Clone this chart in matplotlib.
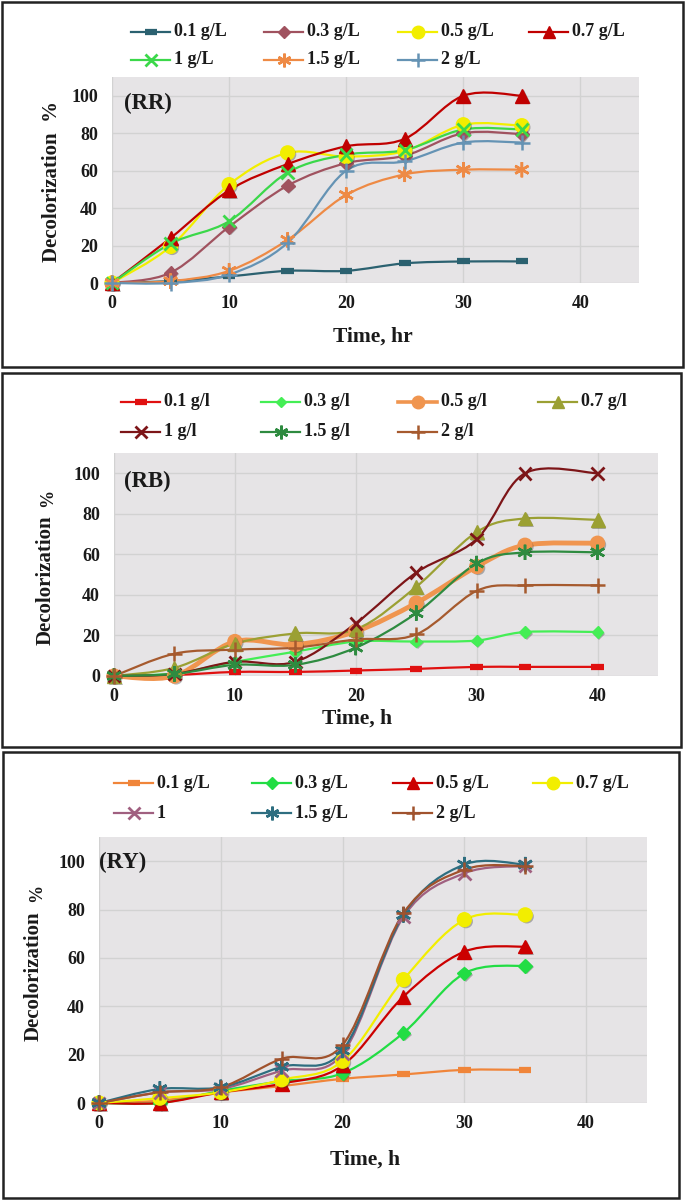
import matplotlib
matplotlib.use('Agg')
import numpy as np
import matplotlib.pyplot as plt
from matplotlib.path import Path
from matplotlib.patches import PathPatch, Rectangle
from matplotlib.lines import Line2D
import matplotlib.patheffects as pe

plt.rcParams['font.family'] = ['Liberation Serif', 'DejaVu Serif']
plt.rcParams['font.weight'] = 'bold'

## data ##
# panel RR
rr_time = [0, 5, 10, 15, 20, 25, 30, 35]
rr_labels = ['0.1 g/L', '0.3 g/L', '0.5 g/L', '0.7 g/L', '1 g/L', '1.5 g/L', '2 g/L']
rr_01 = [0, 1, 3.5, 6.5, 6.5, 10.5, 11.5, 11.5]
rr_03 = [0, 5.5, 30, 52, 64, 68, 80, 79.5]
rr_05 = [0, 19.5, 52.5, 69.5, 67.5, 70.5, 84.5, 84]
rr_07 = [0, 24, 49.5, 63.5, 73, 77, 100, 100]
rr_1 = [0, 21, 33, 59, 68.5, 71, 82, 82]
rr_15 = [0, 1, 6.5, 23, 47, 58, 60.5, 60.5]
rr_2 = [0, 0, 4.5, 21.5, 60, 65, 75, 75]

# panel RB
rb_time = [0, 5, 10, 15, 20, 25, 30, 34, 40]
rb_labels = ['0.1 g/l', '0.3 g/l', '0.5 g/l', '0.7 g/l', '1 g/l', '1.5 g/l', '2 g/l']
rb_01 = [0, 0.5, 2, 2, 2.7, 3.5, 4.5, 4.5, 4.5]
rb_03 = [0, 1.3, 7, 12, 17, 17, 17.5, 21.7, 21.7]
rb_05 = [0, 0, 17, 15.5, 22, 36, 54, 64.5, 65.5]
rb_07 = [0, 4, 16, 21, 23, 44, 71, 77.7, 77]
rb_1 = [0, 1, 7, 7, 26, 51, 67.5, 100, 100]
rb_15 = [0, 1, 5.5, 5.5, 14, 31, 55.5, 61, 61]
rb_2 = [0, 11, 13, 14, 18, 20.5, 42, 44.7, 44.7]

# panel RY
ry_time = [0, 5, 10, 15, 20, 25, 30, 35]
ry_labels = ['0.1 g/L', '0.3 g/L', '0.5 g/L', '0.7 g/L', '1', '1.5 g/L', '2 g/L']
ry_01 = [0, 1, 4.4, 7, 10, 11.8, 13.7, 13.7]
ry_03 = [0, 0, 5, 9, 12.3, 29, 53.6, 56.8]
ry_05 = [0, 0, 4.4, 8, 15.5, 44, 62.6, 64.7]
ry_07 = [0, 2, 4.4, 9.6, 17.3, 51, 75.8, 77.8]
ry_1 = [0, 4.4, 5.8, 13.4, 20.4, 77, 95, 98]
ry_15 = [0, 5.8, 6.5, 15, 21.7, 77.8, 98.6, 98.6]
ry_2 = [0, 4.4, 6.5, 18.3, 24, 78.5, 96.5, 98]

W, H = 685, 1202

def fx(px):
    return px / W

def fy(py):
    return 1 - py / H

def smooth_path(x, y):
    # excel style smoothed line (catmull-rom as bezier)
    x = np.asarray(x, float)
    y = np.asarray(y, float)
    n = len(x)
    verts = [(x[0], y[0])]
    codes = [Path.MOVETO]
    for i in range(n - 1):
        i0 = max(i - 1, 0)
        i3 = min(i + 2, n - 1)
        c1 = (x[i] + (x[i + 1] - x[i0]) / 6, y[i] + (y[i + 1] - y[i0]) / 6)
        c2 = (x[i + 1] - (x[i3] - x[i]) / 6, y[i + 1] - (y[i3] - y[i]) / 6)
        verts += [c1, c2, (x[i + 1], y[i + 1])]
        codes += [Path.CURVE4] * 3
    return Path(verts, codes)

AST = (6, 2, 0)
# marker, size, edge width
mk_dash = ('_', 9, 4.5)
mk_dia = ('D', 7, 1)
mk_circ = ('o', 10, 1)
mk_tri = ('^', 10, 1)
mk_x = ('x', 9, 2)
mk_ast = (AST, 11, 1.8)
mk_plus = ('+', 11, 1.8)

shadow = [pe.SimplePatchShadow(offset=(1.2, -1.2), shadow_rgbFace='#333333', alpha=0.35), pe.Normal()]


def panel(rect, time, series, labels, colors, marks, lws, tag, tag_pos,
          xlab, xlab_pos, leg_x, leg_y, ylab_parts):
    ax = fig.add_axes(rect)
    ax.set_facecolor('#E6E4E6')
    ax.set_xlim(0, 45)
    ax.set_ylim(0, 110)
    ax.set_xticks([0, 10, 20, 30, 40])
    ax.set_yticks([0, 20, 40, 60, 80, 100])
    ax.grid(True, color='#D2D2D2', lw=1.0)
    ax.set_axisbelow(True)
    for s in ax.spines.values():
        s.set_visible(False)
    ax.tick_params(length=0, labelsize=13, colors='#1a1a1a')
    ax.tick_params(axis='x', pad=9)
    ax.tick_params(axis='y', pad=10)
    for lab in ax.get_xticklabels() + ax.get_yticklabels():
        lab.set_fontweight('bold')

    for vals, col, mk, lw in zip(series, colors, marks, lws):
        patch = PathPatch(smooth_path(time, vals), fill=False, edgecolor=col, lw=lw,
                          capstyle='round', joinstyle='round', clip_on=False)
        ax.add_patch(patch)
        ax.plot(time, vals, linestyle='none', marker=mk[0], ms=mk[1], mew=mk[2],
                color=col, mec=col, clip_on=False, zorder=3, path_effects=shadow)

    fig.text(fx(tag_pos[0]), fy(tag_pos[1]), tag, fontsize=16.5, fontweight='bold',
             va='center', ha='left', color='#1a1a1a')
    fig.text(fx(xlab_pos[0]), fy(xlab_pos[1]), xlab, fontsize=15.5, fontweight='bold',
             ha='center', va='center', color='#1a1a1a')
    for txt, px, py, fs in ylab_parts:
        fig.text(fx(px), fy(py), txt, fontsize=fs, fontweight='bold', rotation=90,
                 ha='center', va='center', color='#1a1a1a')

    # legend, 2 rows of 4
    for i in range(len(labels)):
        col_i = i % 4
        row_i = i // 4
        x0 = fx(leg_x[col_i])
        x1 = fx(leg_x[col_i] + 39)
        yy = fy(leg_y[row_i])
        mk = marks[i]
        ms = mk[1] * 0.9
        fig.add_artist(Line2D([x0, (x0 + x1) / 2, x1], [yy, yy, yy], color=colors[i],
                              lw=min(lws[i], 2.6), marker=mk[0], ms=ms, mew=mk[2],
                              mec=colors[i], markevery=[1], transform=fig.transFigure))
        fig.text(x1 + fx(4), yy, labels[i], fontsize=13, fontweight='bold',
                 va='center', ha='left', color='#1a1a1a')
    return ax


fig = plt.figure(figsize=(W / 100, H / 100), dpi=100)

# panel borders
for (l, t, r, b) in [(2, 2, 683, 367), (2, 373, 681, 747), (3, 752, 679, 1198)]:
    fig.add_artist(Rectangle((fx(l), fy(b)), fx(r - l), (b - t) / H, fill=False,
                             edgecolor='#222222', lw=1.8, transform=fig.transFigure))

rr_colors = ['#2B6170', '#A0525F', '#F2EE00', '#C00000', '#3BD84A', '#EE8A45', '#6593B4']
panel([fx(112), fy(283), (639 - 112) / W, (283 - 77) / H], rr_time,
      [rr_01, rr_03, rr_05, rr_07, rr_1, rr_15, rr_2], rr_labels, rr_colors,
      [mk_dash, mk_dia, mk_circ, mk_tri, mk_x, mk_ast, mk_plus],
      [1.6] * 7, '(RR)', (124, 103), 'Time, hr', (373, 337),
      [131, 264, 398, 529], [32, 60],
      [('Decolorization  %', 52, 182, 15)])

rb_colors = ['#E01010', '#44EE55', '#F0954F', '#9BA033', '#7D1518', '#2E8B40', '#A65A2E']
panel([fx(114), fy(676), (658 - 114) / W, (676 - 453) / H], rb_time,
      [rb_01, rb_03, rb_05, rb_07, rb_1, rb_15, rb_2], rb_labels, rb_colors,
      [mk_dash, ('D', 6, 1), mk_circ, mk_tri, mk_x, mk_ast, mk_plus],
      [1.6, 1.6, 3.5, 1.6, 1.6, 1.6, 1.6], '(RB)', (124, 481), 'Time, h', (357, 719),
      [121, 261, 398, 538], [402, 432],
      [('Decolorization', 46, 580, 15), ('%', 48, 498, 13)])

ry_colors = ['#F0853A', '#22DD44', '#CC0000', '#F2EE00', '#A06080', '#2E6E80', '#A0522D']
panel([fx(99), fy(1103), (647 - 99) / W, (1103 - 837) / H], ry_time,
      [ry_01, ry_03, ry_05, ry_07, ry_1, ry_15, ry_2], ry_labels, ry_colors,
      [mk_dash, mk_dia, mk_tri, mk_circ, mk_x, mk_ast, mk_plus],
      [1.6] * 7, '(RY)', (99, 862), 'Time, h', (365, 1160),
      [114, 252, 393, 533], [783, 813],
      [('Decolorization', 34, 976, 15), ('%', 37, 893, 13)])

fig.savefig('out.png', dpi=100)
